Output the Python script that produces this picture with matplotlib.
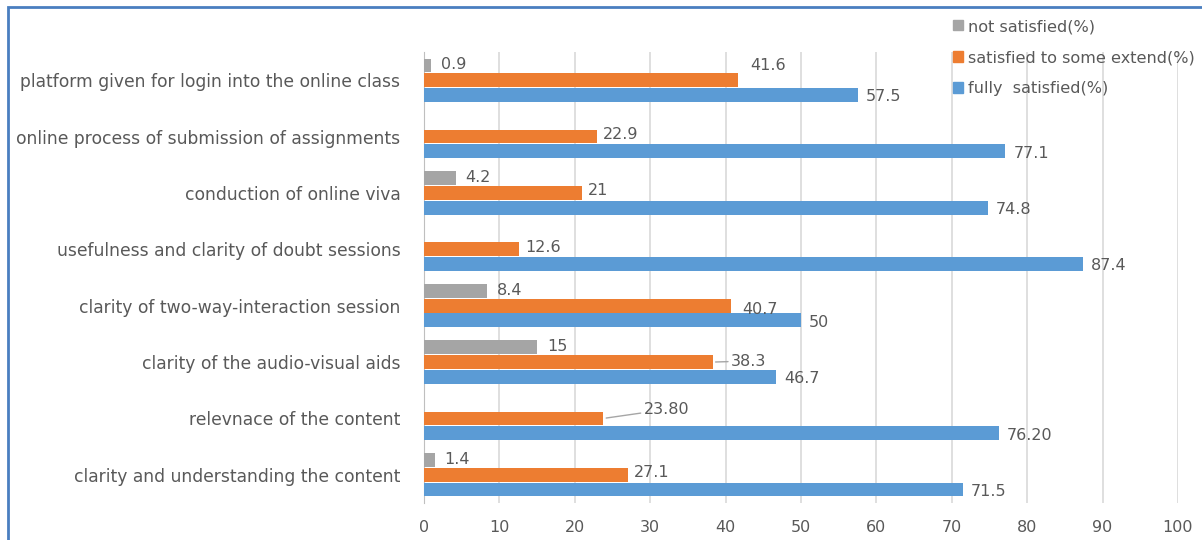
import numpy as np
import matplotlib.pyplot as plt
from matplotlib.patches import Patch, Rectangle

# data (bottom -> top, as drawn)
categories = ['clarity and understanding the content',
              'relevnace of the content',
              'clarity of the audio-visual aids',
              'clarity of two-way-interaction session',
              'usefulness and clarity of doubt sessions',
              'conduction of online viva',
              'online process of submission of assignments',
              'platform given for login into the online class']
fully = [71.5, 76.20, 46.7, 50, 87.4, 74.8, 77.1, 57.5]
fully_lbl = ['71.5', '76.20', '46.7', '50', '87.4', '74.8', '77.1', '57.5']
some = [27.1, 23.80, 38.3, 40.7, 12.6, 21, 22.9, 41.6]
some_lbl = ['27.1', '23.80', '38.3', '40.7', '12.6', '21', '22.9', '41.6']
nots = [1.4, 0, 15, 8.4, 0, 4.2, 0, 0.9]
nots_lbl = ['1.4', '', '15', '8.4', '', '4.2', '', '0.9']

c_full = '#5B9BD5'
c_some = '#ED7D31'
c_not = '#A5A5A5'
txt = '#595959'

plt.rcParams['font.family'] = ['DejaVu Sans']

fig = plt.figure(figsize=(12.02, 5.40), dpi=100)
ax = fig.add_axes([424/1202, 1-503/540, (1178-424)/1202, (503-52)/540])

y = np.arange(len(categories))
h = 0.245
off = 0.26
ax.barh(y - off, fully, height=h, color=c_full, zorder=3)
ax.barh(y, some, height=h, color=c_some, zorder=3)
ax.barh(y + off, [v if v > 0 else np.nan for v in nots], height=h, color=c_not, zorder=3)

# label offsets in pixels (dx, dy)
def put(vals, labels, ypos, default, special={}):
    for i, (v, s) in enumerate(zip(vals, labels)):
        if not s:
            continue
        dx, dy, lead = special.get(i, default + (False,))
        kw = {}
        if lead:
            kw['arrowprops'] = dict(arrowstyle='-', color='#A6A6A6', lw=1,
                                    shrinkA=0, shrinkB=2)
        ax.annotate(s, (v, ypos[i]), xytext=(dx, dy), textcoords='offset pixels',
                    ha='left', va='center', fontsize=11.5, color=txt, zorder=4, **kw)

put(fully, fully_lbl, y - off, (8, -2))
put(some, some_lbl, y, (6, 2), {7: (13, 15, False), 1: (40, 9, True),
                                 2: (18, 1, True), 3: (11, -4, False)})
put(nots, nots_lbl, y + off, (10, 1))

ax.set_xlim(0, 100)
ax.set_ylim(-0.5, len(categories) - 0.5)
ax.set_xticks(np.arange(0, 101, 10))
ax.set_yticks(y)
ax.set_yticklabels(categories)
ax.tick_params(axis='y', length=0, pad=17, labelsize=12.3, labelcolor=txt)
ax.tick_params(axis='x', length=0, pad=12, labelsize=11.5, labelcolor=txt)
ax.grid(axis='x', color='#D9D9D9', lw=1.2, zorder=0)
for s in ['top', 'right', 'bottom']:
    ax.spines[s].set_visible(False)
ax.spines['left'].set_color('#BFBFBF')

handles = [Patch(color=c_not), Patch(color=c_some), Patch(color=c_full)]
fig.legend(handles, ['not satisfied(%)', 'satisfied to some extend(%)', 'fully  satisfied(%)'],
           loc='upper left', bbox_to_anchor=(945/1202, 1-11/540), frameon=False,
           fontsize=11.6, labelcolor=txt, handlelength=0.6, handleheight=0.6,
           handletextpad=0.3, labelspacing=1.0, borderpad=0)

# outer chart border (top + left visible)
fig.patches.append(Rectangle((8/1202, -0.1), 1.2, 1-7/540+0.1, transform=fig.transFigure,
                             fill=False, edgecolor='#4A7EC0', lw=2))

plt.savefig('out.png', dpi=100)
